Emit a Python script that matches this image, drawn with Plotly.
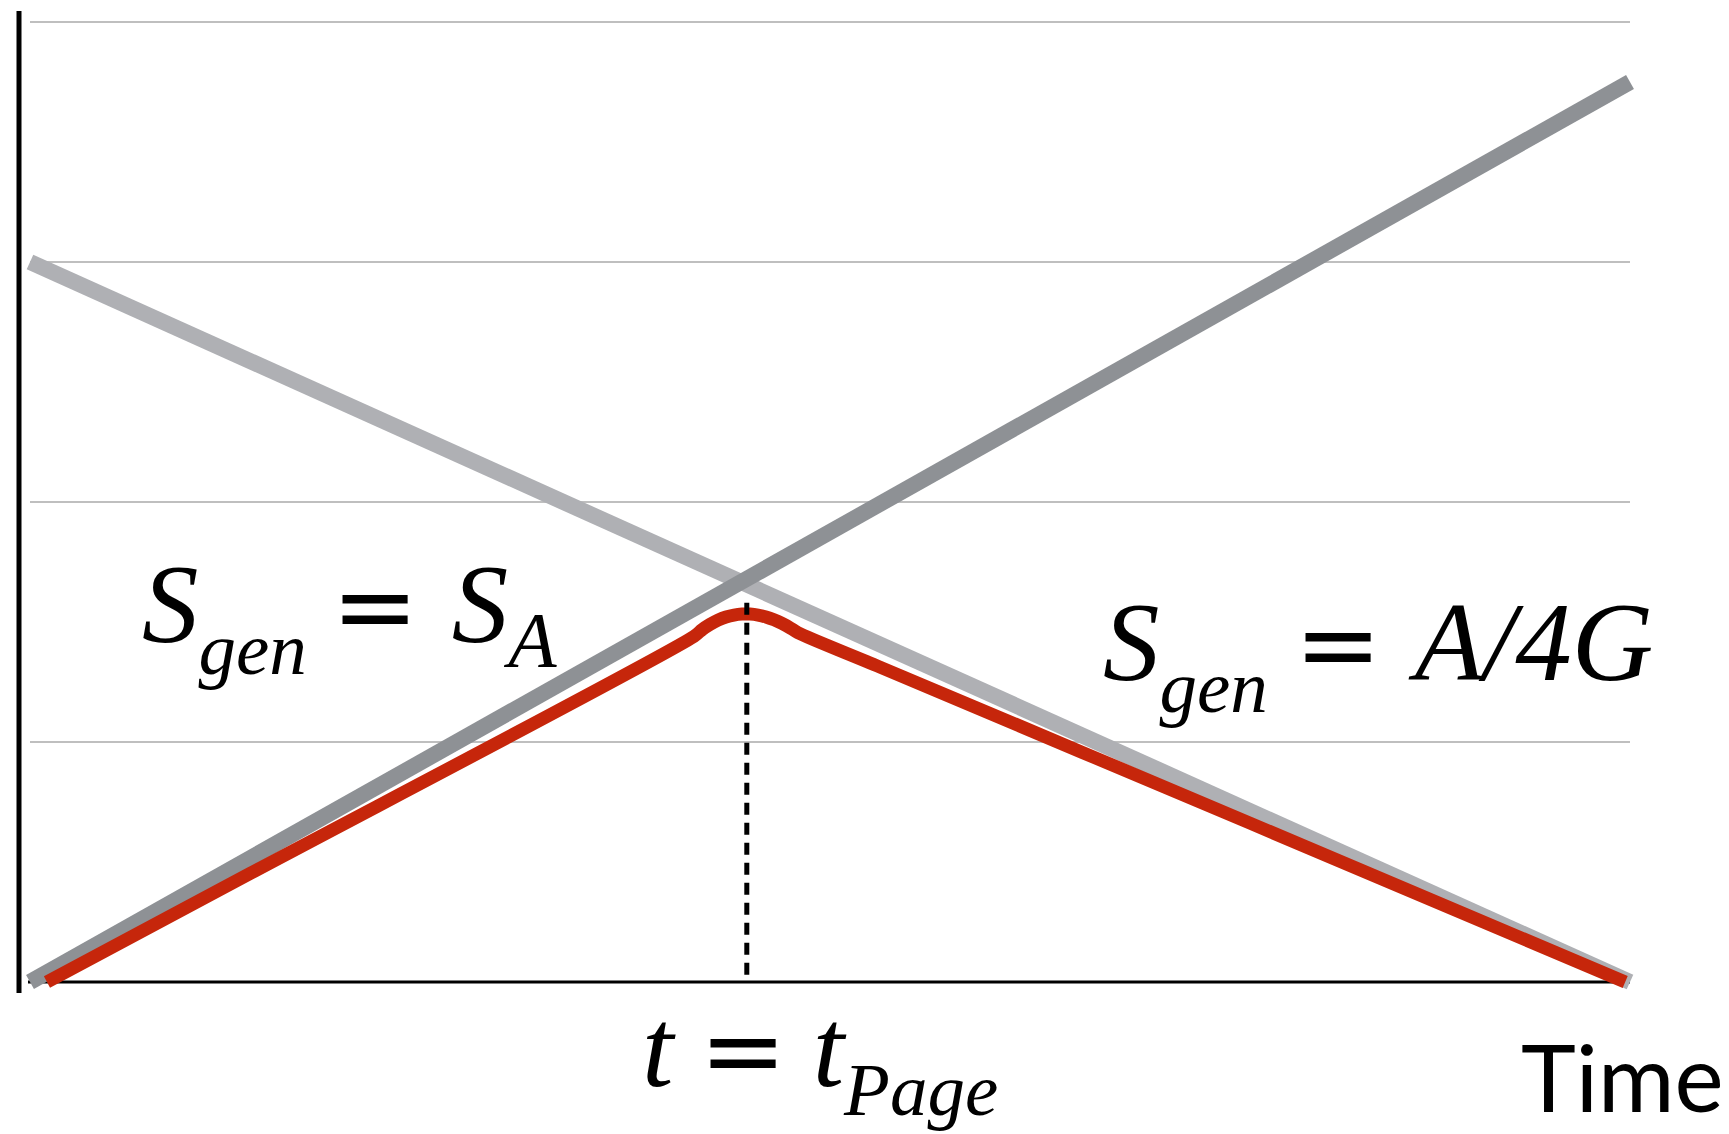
import plotly.graph_objects as go

# ---- data (entropy vs time, arbitrary units) ----
time_rad = [0, 10]
entropy_rad = [0, 3.75]          # rising grey line  (S_gen = S_A)
time_bh = [0, 10]
entropy_bh = [3.0, 0]            # falling grey line (S_gen = A/4G)
time_gen = [0.106, 1.375, 4.15, 4.20, 4.25, 4.30, 4.35, 4.40, 4.45, 4.50, 4.55,
            4.60, 4.65, 4.70, 4.75, 4.80, 5.3125, 7.625, 9.97]
entropy_gen = [0, 0.452, 1.440, 1.468, 1.490, 1.508, 1.521, 1.529, 1.533, 1.533, 1.529,
               1.521, 1.509, 1.494, 1.476, 1.455, 1.312, 0.662, 0]   # red Page curve
t_page = [4.48, 4.48]
page_marker = [1.58, 0]
grid_levels = [1, 2, 3, 4]
axis_x_start = -0.0125
axis_x_end = 10

W, H = 1729, 1134
X0_PX, X_UNIT = 30, 160      # pixel of t=0, pixels per unit
Y0_PX, Y_UNIT = 982, 240     # pixel of S=0, pixels per unit

def px_to_x(px):
    return (px - X0_PX) / X_UNIT

def px_to_y(py):
    return (Y0_PX - py) / Y_UNIT

fig = go.Figure()

fig.add_trace(go.Scatter(x=time_bh, y=entropy_bh, mode="lines",
                         line=dict(color="#afb0b4", width=16), hoverinfo="skip"))
fig.add_trace(go.Scatter(x=time_rad, y=entropy_rad, mode="lines",
                         line=dict(color="#8e9195", width=16), hoverinfo="skip"))
fig.add_trace(go.Scatter(x=time_gen, y=entropy_gen, mode="lines",
                         line=dict(color="#c6260b", width=13, shape="spline", smoothing=0.8),
                         hoverinfo="skip"))
fig.add_trace(go.Scatter(x=t_page, y=page_marker, mode="lines",
                         line=dict(color="black", width=5, dash="12px,8px"), hoverinfo="skip"))

shapes = []
for g in grid_levels:
    shapes.append(dict(type="line", xref="x", yref="y", x0=0, x1=10, y0=g, y1=g,
                       line=dict(color="#bfbfbf", width=2), layer="below"))
shapes.append(dict(type="line", xref="x", yref="y", x0=axis_x_start, x1=axis_x_end, y0=0, y1=0,
                   line=dict(color="black", width=3), layer="below"))
shapes.append(dict(type="line", xref="x", yref="y", x0=px_to_x(19), x1=px_to_x(19),
                   y0=px_to_y(993), y1=px_to_y(11),
                   line=dict(color="black", width=5), layer="below"))

SERIF = "'Liberation Serif', 'Times New Roman', Tinos, 'DejaVu Serif', serif"
SANS = "'DejaVu Sans'"

def it(s, size=None):
    st = "font-family:%s;font-style:italic" % SERIF
    if size:
        st += ";font-size:%dpx" % size
    return '<span style="%s">%s</span>' % (st, s)

def eq(pre, post):
    sp = '<span style="font-family:%s;font-style:normal;font-size:%dpx"> </span>'
    return (sp % (SANS, pre)
            + '<span style="font-family:%s;font-style:normal;font-size:104px">=</span>' % SANS
            + sp % (SANS, post))

def sub(s, size, outer=150):
    return ('<span style="font-size:%dpx"><sub>' % outer) + it(s, size) + "</sub></span>"

label1 = it("S") + sub("gen", 75) + eq(78, 104) + it("S") + "<sub>" + it("A") + "</sub>"
label2 = it("S") + sub("gen", 75) + eq(84, 104) + it("A") + it("/") + it("4G")
label3 = it("t") + eq(82, 82) + it("t") + sub("Page", 75, 136)

serif = dict(family=SERIF, size=113, color="black")
annotations = [
    dict(text=label1, x=px_to_x(140), y=px_to_y(615), xref="x", yref="y",
         xanchor="left", yanchor="middle", showarrow=False, font=serif),
    dict(text=label2, x=px_to_x(1101), y=px_to_y(653), xref="x", yref="y",
         xanchor="left", yanchor="middle", showarrow=False, font=serif),
    dict(text=label3, x=px_to_x(640), y=px_to_y(1058), xref="x", yref="y",
         xanchor="left", yanchor="middle", showarrow=False, font=serif),
    dict(text="Time", x=px_to_x(1519), y=px_to_y(1076), xref="x", yref="y",
         xanchor="left", yanchor="middle", showarrow=False,
         font=dict(family="Lato", size=93, color="black")),
]

fig.update_layout(
    width=W, height=H,
    margin=dict(l=0, r=0, t=0, b=0),
    paper_bgcolor="white", plot_bgcolor="white",
    showlegend=False,
    shapes=shapes,
    annotations=annotations,
    xaxis=dict(range=[px_to_x(0), px_to_x(W)], visible=False, fixedrange=True),
    yaxis=dict(range=[px_to_y(H), px_to_y(0)], visible=False, fixedrange=True),
)

fig.write_html("out.html", config=dict(displayModeBar=False),
               post_script="document.body.style.margin='0';document.body.style.overflow='hidden';")
